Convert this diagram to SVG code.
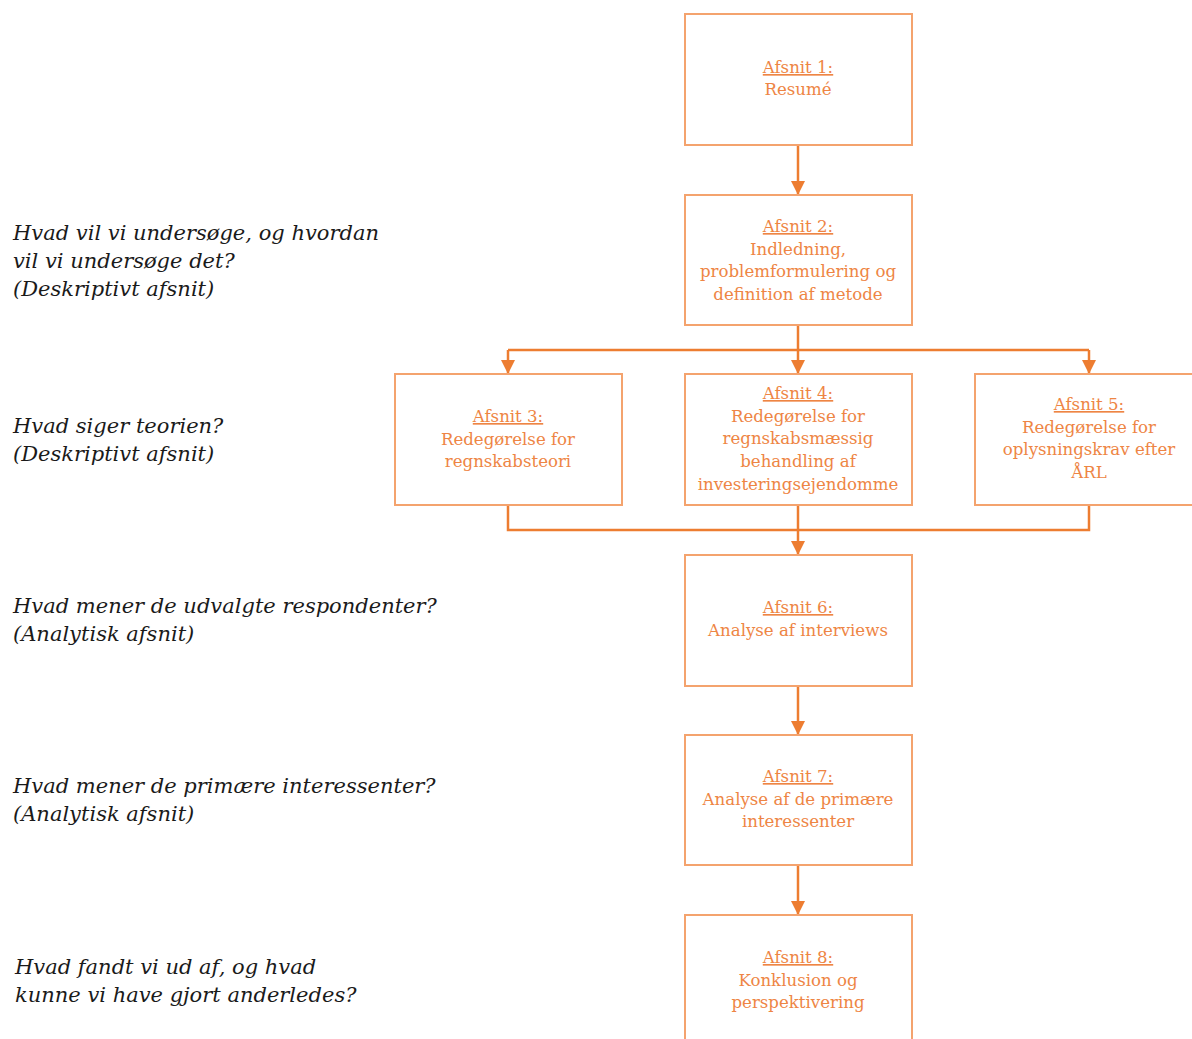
<svg xmlns="http://www.w3.org/2000/svg" width="1192" height="1039" viewBox="0 0 1192 1039">
<style>
.box{fill:#fff;stroke:#F4A36E;stroke-width:2}
.bt{font-family:"DejaVu Serif",serif;font-size:16.6px;fill:#EE8544;text-anchor:middle}
.u{text-decoration:underline}
.q{font-family:"DejaVu Serif",serif;font-style:italic;font-size:21px;fill:#1a1a1a}
.c{fill:none;stroke:#ED7D31;stroke-width:2.5}
</style>
<defs>
<marker id="ah" viewBox="0 0 14 14" refX="14" refY="7" markerWidth="14" markerHeight="14" markerUnits="userSpaceOnUse" orient="auto">
<path d="M0,0 L14,7 L0,14 Z" fill="#ED7D31"/>
</marker>
</defs>
<rect width="1192" height="1039" fill="#fff"/>
<g id="questions">
<text class="q" x="13" y="240">Hvad vil vi undersøge, og hvordan</text>
<text class="q" x="13" y="268">vil vi undersøge det?</text>
<text class="q" x="13" y="296">(Deskriptivt afsnit)</text>
<text class="q" x="13" y="433">Hvad siger teorien?</text>
<text class="q" x="13" y="461">(Deskriptivt afsnit)</text>
<text class="q" x="13" y="613">Hvad mener de udvalgte respondenter?</text>
<text class="q" x="13" y="641">(Analytisk afsnit)</text>
<text class="q" x="13" y="793">Hvad mener de primære interessenter?</text>
<text class="q" x="13" y="821">(Analytisk afsnit)</text>
<text class="q" x="15" y="974">Hvad fandt vi ud af, og hvad</text>
<text class="q" x="15" y="1002">kunne vi have gjort anderledes?</text>
</g>
<g id="connectors">
<path class="c" d="M798,145 V195" marker-end="url(#ah)"/>
<path class="c" d="M798,325 V374" marker-end="url(#ah)"/>
<path class="c" d="M508,350 H1089"/>
<path class="c" d="M508,350 V374" marker-end="url(#ah)"/>
<path class="c" d="M1089,350 V374" marker-end="url(#ah)"/>
<path class="c" d="M508,505 V530 H1089 V505"/>
<path class="c" d="M798,505 V555" marker-end="url(#ah)"/>
<path class="c" d="M798,686 V735" marker-end="url(#ah)"/>
<path class="c" d="M798,865 V915" marker-end="url(#ah)"/>
</g>
<g id="n1">
<rect class="box" x="685" y="14" width="227" height="131"/>
<text class="bt" x="798" y="73"><tspan class="u">Afsnit 1:</tspan><tspan x="798" dy="22">Resumé</tspan></text>
</g>
<g id="n2">
<rect class="box" x="685" y="195" width="227" height="130"/>
<text class="bt" x="798" y="232"><tspan class="u">Afsnit 2:</tspan><tspan x="798" dy="22.5">Indledning,</tspan><tspan x="798" dy="22.5">problemformulering og</tspan><tspan x="798" dy="22.5">definition af metode</tspan></text>
</g>
<g id="n3">
<rect class="box" x="395" y="374" width="227" height="131"/>
<text class="bt" x="508" y="422"><tspan class="u">Afsnit 3:</tspan><tspan x="508" dy="22.5">Redegørelse for</tspan><tspan x="508" dy="22.5">regnskabsteori</tspan></text>
</g>
<g id="n4">
<rect class="box" x="685" y="374" width="227" height="131"/>
<text class="bt" x="798" y="399"><tspan class="u">Afsnit 4:</tspan><tspan x="798" dy="22.7">Redegørelse for</tspan><tspan x="798" dy="22.7">regnskabsmæssig</tspan><tspan x="798" dy="22.7">behandling af</tspan><tspan x="798" dy="22.7">investeringsejendomme</tspan></text>
</g>
<g id="n5">
<rect class="box" x="975" y="374" width="230" height="131"/>
<text class="bt" x="1089" y="410"><tspan class="u">Afsnit 5:</tspan><tspan x="1089" dy="22.7">Redegørelse for</tspan><tspan x="1089" dy="22.7">oplysningskrav efter</tspan><tspan x="1089" dy="22.7">ÅRL</tspan></text>
</g>
<g id="n6">
<rect class="box" x="685" y="555" width="227" height="131"/>
<text class="bt" x="798" y="613"><tspan class="u">Afsnit 6:</tspan><tspan x="798" dy="23">Analyse af interviews</tspan></text>
</g>
<g id="n7">
<rect class="box" x="685" y="735" width="227" height="130"/>
<text class="bt" x="798" y="782"><tspan class="u">Afsnit 7:</tspan><tspan x="798" dy="22.5">Analyse af de primære</tspan><tspan x="798" dy="22.5">interessenter</tspan></text>
</g>
<g id="n8">
<rect class="box" x="685" y="915" width="227" height="140"/>
<text class="bt" x="798" y="963"><tspan class="u">Afsnit 8:</tspan><tspan x="798" dy="22.5">Konklusion og</tspan><tspan x="798" dy="22.5">perspektivering</tspan></text>
</g>
</svg>
